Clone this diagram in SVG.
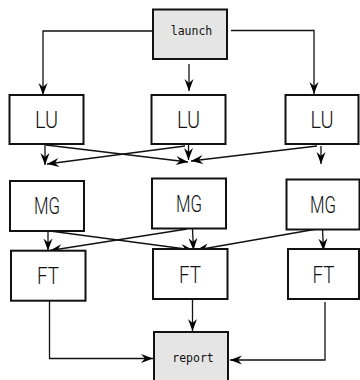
<svg xmlns="http://www.w3.org/2000/svg" width="360" height="380" viewBox="0 0 360 380">
<defs>
<marker id="ah" markerUnits="userSpaceOnUse" markerWidth="16" markerHeight="12" viewBox="-13 -6 14 12" refX="0" refY="0" orient="auto">
<path d="M-12,-4.5 L0,0 L-12,4.5 L-8,0 z" fill="#000"/>
</marker>
<style>
.box{fill:#fff;stroke:#111;stroke-width:2}
.term{fill:#e5e5e5;stroke:#111;stroke-width:2}
.lbl{font-family:Roboto,"DejaVu Sans",sans-serif;font-weight:300;font-size:23px;fill:#111;text-anchor:middle}
.small{font-family:"DejaVu Sans Mono",monospace;font-size:11.5px;fill:#111;text-anchor:middle}
.edge{fill:none;stroke:#111;stroke-width:1.3;marker-end:url(#ah)}
</style>
</defs>
<g id="connectors">
<path class="edge" d="M154,31 H43 V95"/>
<path class="edge" d="M189,64 V91"/>
<path class="edge" d="M231,30.5 H314 V94"/>
<path class="edge" d="M45,145 V165"/>
<path class="edge" d="M46,145 L188,162"/>
<path class="edge" d="M185,146 L47,164"/>
<path class="edge" d="M188.5,145 V160"/>
<path class="edge" d="M317,146 L191,161"/>
<path class="edge" d="M321,146 V164"/>
<path class="edge" d="M48,231 V250.5"/>
<path class="edge" d="M50,231 L193,250"/>
<path class="edge" d="M187,229 L50,250.5"/>
<path class="edge" d="M192.5,229 L193.5,250"/>
<path class="edge" d="M317,229 L196.5,250"/>
<path class="edge" d="M322.5,229 L323.5,250.5"/>
<path class="edge" d="M49.5,301 V358.5 H153"/>
<path class="edge" d="M192.5,299 V331"/>
<path class="edge" d="M325,302 V360 H230"/>
</g>
<g id="launch"><rect class="term" x="153" y="9.5" width="74" height="49.5"/><text class="small" x="191.5" y="34.5">launch</text></g>
<g id="lu1"><rect class="box" x="9.5" y="95" width="74" height="49"/><text class="lbl" x="46.5" y="128" textLength="23" lengthAdjust="spacingAndGlyphs">LU</text></g>
<g id="lu2"><rect class="box" x="151.5" y="95" width="74" height="49"/><text class="lbl" x="188.5" y="128" textLength="23" lengthAdjust="spacingAndGlyphs">LU</text></g>
<g id="lu3"><rect class="box" x="285.5" y="95" width="73" height="49"/><text class="lbl" x="322" y="128" textLength="23" lengthAdjust="spacingAndGlyphs">LU</text></g>
<g id="mg1"><rect class="box" x="10" y="181" width="74" height="50"/><text class="lbl" x="47" y="214" textLength="26" lengthAdjust="spacingAndGlyphs">MG</text></g>
<g id="mg2"><rect class="box" x="152" y="178.5" width="74" height="50"/><text class="lbl" x="189" y="211.5" textLength="26" lengthAdjust="spacingAndGlyphs">MG</text></g>
<g id="mg3"><rect class="box" x="286.5" y="179.5" width="73" height="50"/><text class="lbl" x="323" y="213" textLength="26" lengthAdjust="spacingAndGlyphs">MG</text></g>
<g id="ft1"><rect class="box" x="11" y="250.7" width="74.5" height="50"/><text class="lbl" x="48" y="284" textLength="22" lengthAdjust="spacingAndGlyphs">FT</text></g>
<g id="ft2"><rect class="box" x="153" y="249" width="74.5" height="50"/><text class="lbl" x="190" y="283" textLength="22" lengthAdjust="spacingAndGlyphs">FT</text></g>
<g id="ft3"><rect class="box" x="288" y="249" width="71" height="50"/><text class="lbl" x="323.5" y="283" textLength="22" lengthAdjust="spacingAndGlyphs">FT</text></g>
<g id="report"><rect class="term" x="154" y="332" width="74" height="50"/><text class="small" x="193" y="362">report</text></g>
</svg>
